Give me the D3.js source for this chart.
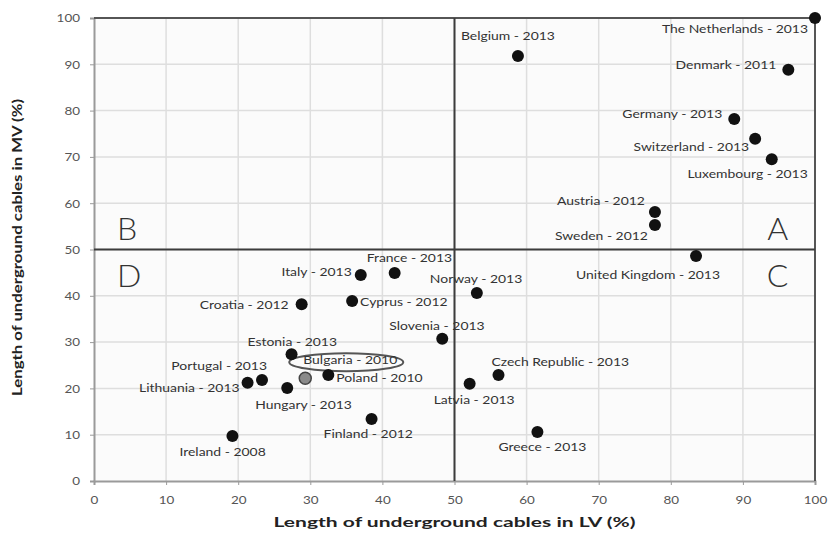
<!DOCTYPE html>
<html>
<head>
<meta charset="utf-8">
<script src="https://cdn.jsdelivr.net/npm/d3@7"></script>
<style>
  html, body { margin: 0; padding: 0; background: #fff; }
  svg { display: block; font-family: Lato, "Open Sans", sans-serif; }
</style>
</head>
<body>
<svg id="chart" width="828" height="536"></svg>
<script>
// Share of underground cables, low voltage (LV) vs medium voltage (MV), by country and year
const countries = [
  "The Netherlands - 2013", "Belgium - 2013", "Denmark - 2011", "Germany - 2013",
  "Switzerland - 2013", "Luxembourg - 2013", "Austria - 2012", "Sweden - 2012",
  "United Kingdom - 2013", "France - 2013", "Italy - 2013", "Cyprus - 2012",
  "Croatia - 2012", "Norway - 2013", "Slovenia - 2013", "Estonia - 2013",
  "Bulgaria - 2010", "Poland - 2010", "Portugal - 2013", "Lithuania - 2013",
  "Hungary - 2013", "Finland - 2012", "Ireland - 2008", "Czech Republic - 2013",
  "Latvia - 2013", "Greece - 2013"
];
const lvShare = [100, 58.8, 96.3, 88.8, 91.7, 94.0, 77.8, 77.8, 83.5, 41.7, 37.0, 35.8,
                 28.8, 53.1, 48.3, 27.4, 29.3, 32.5, 23.3, 21.3, 26.8, 38.5, 19.2, 56.1,
                 52.1, 61.5];
const mvShare = [100, 91.8, 88.8, 78.2, 73.9, 69.5, 58.1, 55.3, 48.6, 44.9, 44.5, 38.9,
                 38.2, 40.6, 30.7, 27.4, 22.2, 22.9, 21.8, 21.2, 20.1, 13.4, 9.7, 22.9,
                 21.0, 10.6];
const xTicks = [0, 10, 20, 30, 40, 50, 60, 70, 80, 90, 100];
const yTicks = [0, 10, 20, 30, 40, 50, 60, 70, 80, 90, 100];
const quadrants = ["A", "B", "C", "D"];
const highlighted = "Bulgaria - 2010";

// Label placement relative to each point: [dx, dy, anchor]
const labelPlacement = {
  "The Netherlands - 2013": [-7, 15, "end"],
  "Belgium - 2013": [-57, -16, "start"],
  "Denmark - 2011": [-12, -1, "end"],
  "Germany - 2013": [-12, -1, "end"],
  "Switzerland - 2013": [-6, 12, "end"],
  "Luxembourg - 2013": [36, 19, "end"],
  "Austria - 2012": [-10, -7, "end"],
  "Sweden - 2012": [-7, 15, "end"],
  "United Kingdom - 2013": [24, 23, "end"],
  "France - 2013": [-28, -11, "start"],
  "Italy - 2013": [-9, 1, "end"],
  "Cyprus - 2012": [8, 5, "start"],
  "Croatia - 2012": [-13, 5, "end"],
  "Norway - 2013": [-47, -10, "start"],
  "Slovenia - 2013": [-53, -9, "start"],
  "Estonia - 2013": [-44, -8, "start"],
  "Bulgaria - 2010": [-2, -14, "start"],
  "Poland - 2010": [8, 7, "start"],
  "Portugal - 2013": [5, -10, "end"],
  "Lithuania - 2013": [-8, 9, "end"],
  "Hungary - 2013": [-32, 21, "start"],
  "Finland - 2012": [-48, 19, "start"],
  "Ireland - 2008": [-53, 20, "start"],
  "Czech Republic - 2013": [-7, -9, "start"],
  "Latvia - 2013": [-36, 20, "start"],
  "Greece - 2013": [-39, 19, "start"]
};

// Widen text horizontally by factor k (the chart uses a wide typeface)
function widen(sel, k) {
  sel.each(function () {
    const w = this.getComputedTextLength();
    d3.select(this).attr("textLength", w * k).attr("lengthAdjust", "spacingAndGlyphs");
  });
}

const svg = d3.select("#chart");
const x = d3.scaleLinear().domain([0, 100]).range([94, 815]);
const y = d3.scaleLinear().domain([0, 100]).range([481, 18]);

// plot background
svg.append("rect")
  .attr("x", x(0)).attr("y", y(100))
  .attr("width", x(100) - x(0)).attr("height", y(0) - y(100))
  .attr("fill", "#fbfbfb");

// gridlines
svg.append("g").selectAll("line").data(xTicks.slice(1, -1)).join("line")
  .attr("x1", d => x(d)).attr("x2", d => x(d))
  .attr("y1", y(0)).attr("y2", y(100))
  .attr("stroke", "#dedede").attr("stroke-width", 1.5);
svg.append("g").selectAll("line").data(yTicks.slice(1, -1)).join("line")
  .attr("y1", d => y(d)).attr("y2", d => y(d))
  .attr("x1", x(0)).attr("x2", x(100))
  .attr("stroke", "#dedede").attr("stroke-width", 1.5);

// axes
const xAxis = svg.append("g")
  .attr("transform", `translate(0,${y(0)})`)
  .call(d3.axisBottom(x).tickValues(xTicks).tickSize(4).tickPadding(10));
const yAxis = svg.append("g")
  .attr("transform", `translate(${x(0)},0)`)
  .call(d3.axisLeft(y).tickValues(yTicks).tickSize(4).tickPadding(10));
[xAxis, yAxis].forEach(g => {
  g.select(".domain").attr("stroke", "#9a9a9a").attr("stroke-width", 2);
  g.selectAll(".tick line").attr("stroke", "#9a9a9a");
  g.selectAll(".tick text")
    .attr("fill", "#555").attr("font-size", 12)
    .attr("font-family", "Lato, sans-serif")
    .call(widen, 1.12);
});

// top and right border
svg.append("path")
  .attr("d", `M${x(0)},${y(100)}H${x(100)}V${y(0)}`)
  .attr("fill", "none").attr("stroke", "#555").attr("stroke-width", 2);

// quadrant dividers at 50 %
svg.append("line")
  .attr("x1", x(50)).attr("x2", x(50)).attr("y1", y(0)).attr("y2", y(100))
  .attr("stroke", "#3c3c3c").attr("stroke-width", 2);
svg.append("line")
  .attr("x1", x(0)).attr("x2", x(100)).attr("y1", y(50)).attr("y2", y(50))
  .attr("stroke", "#3c3c3c").attr("stroke-width", 2);

// quadrant letters
const quadPos = {A: [96.3, 50, "end", -10], B: [3.2, 50, "start", -10],
                 C: [96.3, 50, "end", 37], D: [3.2, 50, "start", 37]};
svg.append("g").selectAll("text").data(quadrants).join("text")
  .attr("x", d => x(quadPos[d][0]))
  .attr("y", d => y(quadPos[d][1]) + quadPos[d][3])
  .attr("text-anchor", d => quadPos[d][2])
  .attr("font-family", "Lato, sans-serif")
  .attr("font-weight", 300)
  .attr("font-size", 32).attr("fill", "#333")
  .text(d => d);

// points and labels
const pts = countries.map((c, i) => ({name: c, lv: lvShare[i], mv: mvShare[i]}));

const hl = pts.find(p => p.name === highlighted);
svg.append("ellipse")
  .attr("cx", x(hl.lv) + 41).attr("cy", y(hl.mv) - 16)
  .attr("rx", 57).attr("ry", 9)
  .attr("fill", "none").attr("stroke", "#555").attr("stroke-width", 2);

svg.append("g").selectAll("circle").data(pts).join("circle")
  .attr("cx", d => x(d.lv)).attr("cy", d => y(d.mv))
  .attr("r", 6)
  .attr("fill", d => d.name === highlighted ? "#8a8a8a" : "#111")
  .attr("stroke", d => d.name === highlighted ? "#444" : "none")
  .attr("stroke-width", 1.5);

svg.append("g").selectAll("text").data(pts).join("text")
  .attr("x", d => x(d.lv) + labelPlacement[d.name][0])
  .attr("y", d => y(d.mv) + labelPlacement[d.name][1])
  .attr("text-anchor", d => labelPlacement[d.name][2])
  .attr("font-family", "Lato, sans-serif")
  .attr("font-size", 12).attr("fill", "#333")
  .text(d => d.name)
  .call(widen, 1.16);

// axis titles
svg.append("text")
  .attr("x", x(50)).attr("y", 527)
  .attr("text-anchor", "middle")
  .attr("font-family", "Lato, sans-serif")
  .attr("font-weight", "bold").attr("font-size", 13.5).attr("fill", "#222")
  .attr("textLength", 362).attr("lengthAdjust", "spacingAndGlyphs")
  .text("Length of underground cables in LV (%)");
svg.append("text")
  .attr("transform", `translate(22,${y(50) - 2}) rotate(-90)`)
  .attr("text-anchor", "middle")
  .attr("font-family", "Lato, sans-serif")
  .attr("font-weight", "bold").attr("font-size", 13).attr("fill", "#222")
  .attr("textLength", 297).attr("lengthAdjust", "spacingAndGlyphs")
  .text("Length of underground cables in MV (%)");
</script>
</body>
</html>
